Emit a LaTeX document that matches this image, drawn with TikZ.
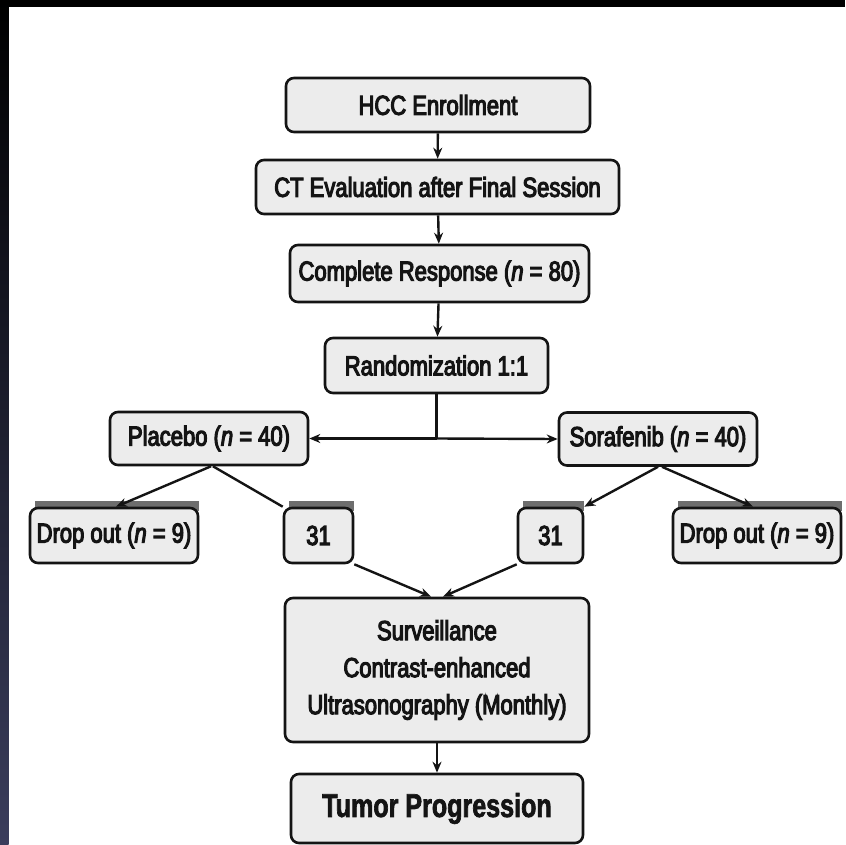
\documentclass[tikz,border=0pt]{standalone}
\usepackage{fontspec}
\setmainfont{Liberation Sans}[FakeStretch=0.8,FakeBold=4]
\newfontfamily\tumfont{Liberation Sans}[FakeStretch=0.76,FakeBold=2]
\usetikzlibrary{arrows.meta,calc}
\pgfdeclarelayer{bg}
\pgfsetlayers{bg,main}
\definecolor{boxfill}{RGB}{236,236,236}
\definecolor{navyband}{RGB}{58,61,92}
\definecolor{barg}{RGB}{110,110,110}
\definecolor{ink}{RGB}{20,20,20}
\begin{document}
\begin{tikzpicture}[x=1pt,y=-1pt,
  box/.style={draw=ink, line width=2.6pt, fill=boxfill, rounded corners=8pt,
    inner sep=0pt, align=center, text=ink,
    font=\fontsize{27.5}{37}\selectfont},
  arr/.style={draw=ink, line width=2.4pt, -{Stealth[length=11pt,width=9pt]}},
  ln/.style={draw=ink, line width=2.4pt},
  bar/.style={fill=barg, draw=none}]
\begin{pgfonlayer}{bg}
\useasboundingbox (0,0) rectangle (845,845);
\fill[white] (0,0) rectangle (845,845);
\fill[black] (0,0) rectangle (845,7);
\shade[top color=black, bottom color=navyband] (0,0) rectangle (8.5,845);
\end{pgfonlayer}

\node[box, minimum width=304pt, minimum height=54pt] (hcc) at (438,105) {HCC Enrollment};
\node[box, minimum width=363pt, minimum height=54pt] (ct) at (437.5,187) {CT Evaluation after Final Session};
\node[box, minimum width=299pt, minimum height=57pt] (cr) at (439.5,273.5) {Complete Response (\textit{n} = 80)};
\node[box, minimum width=223pt, minimum height=55pt] (rand) at (436.5,365.5) {Randomization 1:1};
\node[box, minimum width=198pt, minimum height=53pt] (plac) at (209,438.5) {Placebo (\textit{n} = 40)};
\node[box, minimum width=198pt, minimum height=53pt] (sora) at (658,439) {Sorafenib (\textit{n} = 40)};
\node[box, minimum width=168pt, minimum height=55pt] (dl) at (114,535.5) {Drop out (\textit{n} = 9)};
\node[box, minimum width=69pt, minimum height=55pt] (l31) at (318.5,535.5) {31};
\node[box, minimum width=65pt, minimum height=55pt] (r31) at (550.5,535.5) {31};
\node[box, minimum width=168pt, minimum height=55pt] (dr) at (757,535.5) {Drop out (\textit{n} = 9)};
\node[box, minimum width=304pt, minimum height=144pt] (surv) at (437,670) {Surveillance\\Contrast-enhanced\\Ultrasonography (Monthly)};
\node[box, minimum width=292pt, minimum height=69pt, font=\tumfont\fontsize{33}{38}\bfseries] (tum) at (437,808.5) {Tumor Progression};

\begin{pgfonlayer}{bg}
\foreach \b in {dl,l31,r31,dr}{
  \fill[bar] ($(\b.north west)+(6,4)$) rectangle ($(\b.north east)+(0,-6)$);
}
\end{pgfonlayer}

\draw[arr] (hcc) -- (ct);
\draw[arr] (ct) -- (cr);
\draw[arr] (cr) -- (rand);
\coordinate (junc) at (rand.south |- plac.east);
\draw[ln] (rand.south) -- (junc);
\draw[arr] (junc) -- (plac.east);
\draw[arr] (junc) -- (sora.west);
\draw[arr] ($(plac.south)+(2,0)$) -- ($(dl.north)+(2,0)$);
\draw[ln] ($(plac.south)+(4,0)$) -- (l31.north west);
\draw[arr] (sora.south) -- (r31.north east);
\draw[arr] ($(sora.south)+(4,0)$) -- ($(dr.north)+(-4,0)$);
\draw[arr] (l31.south east) -- ($(surv.north)+(-6,0)$);
\draw[arr] (r31.south west) -- ($(surv.north)+(6,0)$);
\draw[arr] (surv) -- (tum);
\end{tikzpicture}
\end{document}
